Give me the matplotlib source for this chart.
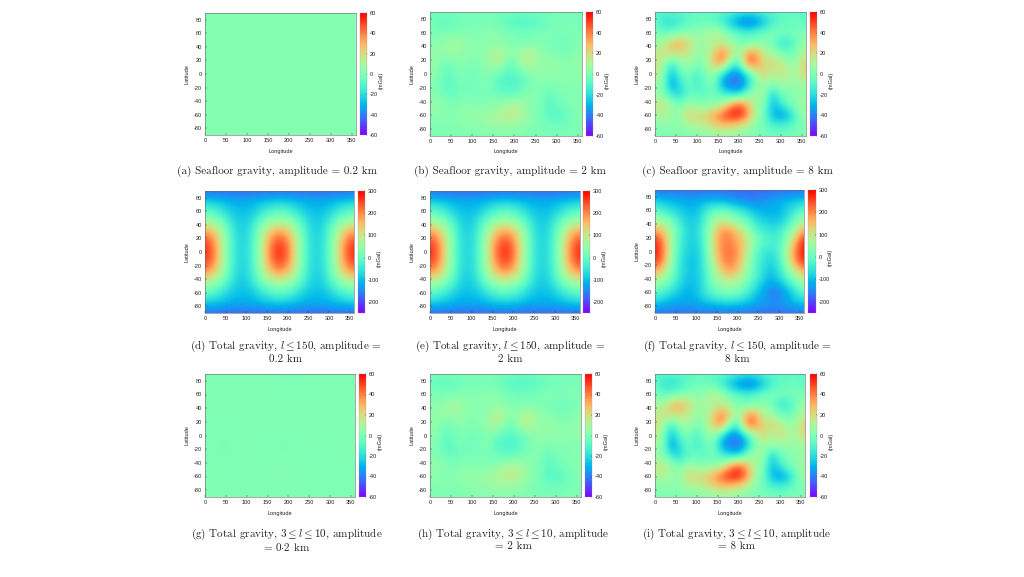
import numpy as np
import matplotlib
matplotlib.use("Agg")
import matplotlib.pyplot as plt

W, H = 1024, 577
plt.rcParams['mathtext.fontset'] = 'cm'
plt.rcParams['font.family'] = ['Liberation Sans', 'DejaVu Sans']
plt.rcParams['axes.unicode_minus'] = False

lons = list(range(0, 361, 20))
lats = [90, 75, 60, 45, 30, 15, 0, -15, -30, -45, -60, -75, -90]

seafloor_8km = [
 [-8,-8,-8,-8,-7,-6,-6,-6,-8,-10,-13,-15,-14,-10,-8,-7,-7,-7,-8],
 [-8,-18,-20,-15,-8,-5,-5,-8,-15,-28,-38,-46,-40,-28,-15,-8,-5,-5,-8],
 [0,-5,-5,0,3,3,8,15,8,-3,-8,-10,-8,-3,0,0,-3,0,0],
 [8,10,28,33,22,8,8,8,15,8,0,-3,0,3,-3,-18,-15,-3,8],
 [14,20,20,18,15,5,5,25,42,25,5,35,38,12,10,0,-5,3,14],
 [22,6,-15,3,8,0,5,25,38,-5,-12,42,40,20,22,18,5,10,27],
 [20,0,-28,-8,0,-14,0,5,-20,-38,-38,-18,5,25,8,20,12,8,25],
 [5,0,-36,-18,-5,-14,-5,0,-32,-42,-45,-28,0,5,5,5,5,5,8],
 [5,0,-15,-22,-8,-5,-8,-3,-10,-18,-18,0,10,8,-26,-5,0,3,5],
 [18,18,8,0,10,3,3,5,10,35,50,32,8,0,-28,-18,-3,3,10],
 [8,12,5,5,25,20,25,35,48,58,58,40,12,-5,-28,-36,-28,-5,8],
 [0,3,3,3,8,10,15,20,25,22,18,10,0,-3,-10,-12,-8,-3,0],
 [0,0,0,0,1,1,2,3,4,4,3,2,0,-1,-2,-2,-1,0,0],
]
seafloor_2km = [
 [-2,-2,-2,-2,-2,-1,-1,-1,-2,-3,-3,-4,-3,-3,-2,-2,-2,-2,-2],
 [-3,-6,-7,-5,-3,-2,-2,-2,-3,-7,-10,-11,-10,-7,-4,-2,-1,-1,-2],
 [0,-1,-1,0,1,1,2,4,2,0,-2,-3,-2,-1,0,0,-1,0,0],
 [2,3,7,10,6,2,2,2,4,2,0,-1,0,1,-1,-4,-4,-1,2],
 [4,5,6,6,4,2,2,7,15,8,2,13,14,4,3,0,-2,1,4],
 [6,2,-4,1,2,0,1,7,13,-1,-3,12,11,5,6,5,2,3,7],
 [5,0,-7,-2,0,-4,0,1,-5,-9,-9,-5,1,6,2,5,3,2,6],
 [1,0,-10,-5,-1,-4,-1,0,-9,-11,-12,-7,0,1,1,1,1,1,2],
 [1,0,-4,-6,-2,-1,-2,-1,-3,-5,-5,0,2,2,-8,-2,0,1,1],
 [5,5,2,0,3,1,1,1,3,9,13,8,2,0,-8,-5,-1,1,3],
 [2,3,1,1,6,5,6,9,12,15,16,10,3,-1,-8,-10,-8,-1,2],
 [0,1,1,1,2,3,4,5,6,6,5,3,0,-1,-3,-3,-2,-1,0],
 [0,0,0,0,0,0,1,1,1,1,1,1,0,0,-1,-1,0,0,0],
]
seafloor_02km = [[1, 1, 1, 1, 1, 1, 1, 1, 1, 1, 1, 1, 1, 1, 1, 1, 1, 1, 1]] * 13
band_02km = [
 [0,0,0,0,0,0,0,0,0,-1,-1,-1,-1,0,0,0,0,0,0],
 [0,0,0,0,0,0,0,0,0,-1,-1,-1,-1,0,0,0,0,0,0],
 [0,0,0,0,0,0,0,0,0,0,0,0,0,0,0,0,0,0,0],
 [0,0,1,1,0,0,0,0,0,0,0,0,0,0,0,0,0,0,0],
 [0,0,0,0,0,0,0,0,1,0,0,1,1,0,0,0,0,0,0],
 [0,0,0,0,0,0,0,0,0,0,0,1,1,0,0,0,0,0,0],
 [0,0,-1,-1,0,0,0,0,0,-1,-1,0,0,0,0,0,0,0,0],
 [0,0,-2,-1,0,0,0,0,-1,-1,-1,-1,0,0,0,0,0,0,0],
 [0,0,-1,-1,0,0,0,0,0,-1,-1,0,0,0,-1,0,0,0,0],
 [0,0,0,0,0,0,0,0,0,1,1,0,0,0,-1,0,0,0,0],
 [0,0,0,0,0,0,0,1,1,1,1,1,0,0,-1,-1,-1,0,0],
 [0,0,0,0,0,0,0,0,0,0,0,0,0,0,0,0,0,0,0],
 [0,0,0,0,0,0,0,0,0,0,0,0,0,0,0,0,0,0,0],
]
total_small = [
 [-175]*19,
 [-85,-92,-100,-110,-115,-115,-110,-100,-92,-85,-92,-100,-110,-115,-115,-110,-100,-92,-85],
 [-5,-20,-50,-85,-100,-100,-85,-50,-20,-5,-20,-50,-85,-100,-100,-85,-50,-20,-5],
 [65,50,15,-40,-85,-85,-40,15,50,65,50,15,-40,-85,-85,-40,15,50,65],
 [185,150,70,-15,-75,-75,-15,70,150,185,150,70,-15,-75,-75,-15,70,150,185],
 [255,205,90,-5,-70,-70,-5,90,205,255,205,90,-5,-70,-70,-5,90,205,255],
 [275,225,100,-5,-70,-70,-5,100,225,275,225,100,-5,-70,-70,-5,100,225,275],
 [255,205,90,-5,-70,-70,-5,90,205,255,205,90,-5,-70,-70,-5,90,205,255],
 [185,150,70,-15,-75,-75,-15,70,150,185,150,70,-15,-75,-75,-15,70,150,185],
 [65,50,15,-40,-85,-85,-40,15,50,65,50,15,-40,-85,-85,-40,15,50,65],
 [-5,-20,-50,-85,-100,-100,-85,-50,-20,-5,-20,-50,-85,-100,-100,-85,-50,-20,-5],
 [-85,-92,-100,-110,-115,-115,-110,-100,-92,-85,-92,-100,-110,-115,-115,-110,-100,-92,-85],
 [-175]*19,
]
total_8km = [
 [-175]*19,
 [-85,-100,-105,-115,-120,-120,-110,-110,-115,-130,-145,-155,-155,-145,-130,-115,-105,-95,-85],
 [-5,-40,-65,-85,-100,-100,-55,-5,5,-10,-40,-65,-100,-110,-115,-110,-80,-40,-5],
 [65,50,20,-45,-85,-85,-25,55,85,75,35,5,-50,-80,-90,-95,-50,15,65],
 [185,140,55,-15,-75,-70,-10,100,190,195,140,75,0,-35,-55,-45,10,85,185],
 [280,205,60,-30,-80,-80,-15,105,200,205,170,120,50,-10,-25,-25,45,170,285],
 [290,215,60,-35,-80,-90,-25,100,195,225,190,100,5,-40,-60,-25,80,215,295],
 [270,195,40,-50,-95,-95,-30,80,180,215,175,80,-5,-50,-80,-40,70,195,275],
 [155,105,25,-50,-90,-90,-40,45,120,180,135,55,-10,-60,-100,-60,15,95,155],
 [55,35,-5,-65,-100,-100,-45,30,60,75,60,25,-30,-85,-120,-95,-45,15,55],
 [-10,-30,-70,-95,-115,-100,-50,-10,15,30,10,-25,-80,-125,-160,-165,-120,-55,-10],
 [-90,-100,-115,-120,-120,-115,-100,-90,-80,-75,-80,-95,-115,-125,-135,-135,-120,-100,-90],
 [-170]*19,
]

captions = [
 ["(a) Seafloor gravity, amplitude = 0.2 km"],
 ["(b) Seafloor gravity, amplitude = 2 km"],
 ["(c) Seafloor gravity, amplitude = 8 km"],
 [r"(d) Total gravity, $l \leq 150$, amplitude =", "0.2 km"],
 [r"(e) Total gravity, $l \leq 150$, amplitude =", "2 km"],
 [r"(f) Total gravity, $l \leq 150$, amplitude =", "8 km"],
 [r"(g) Total gravity, $3 \leq l \leq 10$, amplitude", r"= $0{\cdot}2$ km"],
 [r"(h) Total gravity, $3 \leq l \leq 10$, amplitude", "= 2 km"],
 [r"(i) Total gravity, $3 \leq l \leq 10$, amplitude", "= 8 km"],
]
panel_data = [seafloor_02km, seafloor_2km, seafloor_8km,
              total_small, total_small, total_8km,
              band_02km, seafloor_2km, seafloor_8km]
xticks = list(range(0, 351, 50))
yticks = list(range(-80, 81, 20))
low_scale = (-60, 60, list(range(-60, 61, 20)))
high_scale = (-250, 300, list(range(-200, 301, 100)))
scales = [low_scale]*3 + [high_scale]*3 + [low_scale]*3

# x0, x1, y0, y1, cbar x0, cbar x1, caption centre x
boxes = [
 (205, 356, 13, 135, 360, 367, 277),
 (430, 582, 12, 136, 586, 593, 510),
 (655, 806, 12, 136, 810, 817, 737),
 (205, 354, 191, 313, 358, 365, 286),
 (430, 580, 191, 313, 583, 590, 510),
 (655, 804, 190, 313, 808, 816, 737),
 (205, 355, 374, 497, 359, 366, 287),
 (430, 581, 374, 497, 585, 592, 513),
 (655, 805, 374, 497, 810, 817, 737),
]
cap_y = [171]*3 + [346.5]*3 + [534]*3

fig = plt.figure(figsize=(W/100, H/100), dpi=100, facecolor='white')
FS = 4.1
dx, dy = (lons[1]-lons[0])/2, (lats[0]-lats[1])/2
for i, (z, (vmin, vmax, cticks), b, cap) in enumerate(zip(panel_data, scales, boxes, captions)):
    x0, x1, y0, y1, c0, c1, cx = b
    ax = fig.add_axes([x0/W, 1-y1/H, (x1-x0)/W, (y1-y0)/H])
    im = ax.imshow(np.array(z, float), cmap='rainbow', vmin=vmin, vmax=vmax, origin='upper',
                   extent=[lons[0]-dx, lons[-1]+dx, lats[-1]-dy, lats[0]+dy],
                   interpolation='bicubic', aspect='auto')
    ax.set_xlim(0, 360)
    ax.set_ylim(-90, 90)
    ax.set_xticks(xticks)
    ax.set_yticks(yticks)
    ax.tick_params(direction='in', length=1.2, width=0.3, labelsize=FS, pad=2.2, color='#333333', labelcolor='#222222')
    for s in ax.spines.values():
        s.set_linewidth(0.4)
        s.set_color('#666666')
    fig.text((x0+x1)/2/W, 1-(y1+16)/H, "Longitude", fontsize=FS, ha='center', va='center', color='#222222')
    fig.text((x0-18)/W, 1-(y0+y1)/2/H, "Latitude", fontsize=FS, ha='center', va='center', rotation=90, color='#222222')

    cax = fig.add_axes([c0/W, 1-y1/H, (c1-c0)/W, (y1-y0)/H])
    cb = fig.colorbar(im, cax=cax)
    cb.set_ticks(cticks)
    cb.ax.tick_params(direction='in', length=1, width=0.3, labelsize=FS, pad=1.8, color='#333333', labelcolor='#222222')
    cb.outline.set_linewidth(0.2)
    cb.outline.set_edgecolor('#999999')
    fig.text((c1+14)/W, 1-((y0+y1)/2+6)/H, "(mGal)", fontsize=FS, ha='center', va='center', rotation=90, color='#222222')

    for j, line in enumerate(cap):
        fig.text(cx/W, 1-(cap_y[i]+j*12.7)/H, line, fontsize=8.0, ha='center', va='center',
                 family=['cmr10', 'DejaVu Serif'], color='#222222')

fig.savefig('out.png', dpi=100, facecolor='white')
